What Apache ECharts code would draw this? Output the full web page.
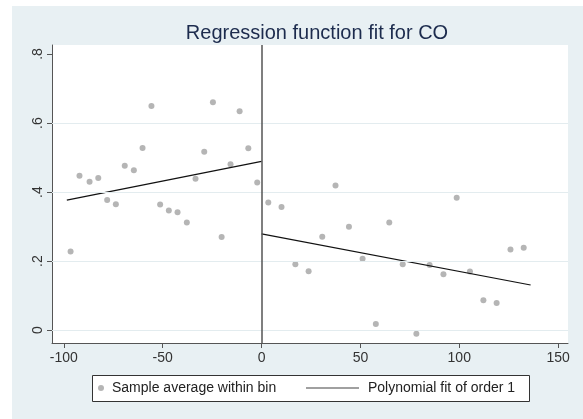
<!DOCTYPE html>
<html>
<head>
<meta charset="utf-8">
<script src="https://cdn.jsdelivr.net/npm/echarts@6/dist/echarts.min.js"></script>
<style>
html,body{margin:0;padding:0;background:#fff;}
#wrap{position:relative;width:583px;height:419px;background:#fff;overflow:hidden;}
#bg{position:absolute;left:12px;top:6px;width:571px;height:413px;background:#e8f0f3;}
#chart{position:absolute;left:0;top:0;width:583px;height:419px;}
</style>
</head>
<body>
<div id="wrap"><div id="bg"></div><div id="chart"></div></div>
<script>
// Binned sample averages, left of cutoff
const leftX = [-96.6,-92.1,-87.0,-82.6,-78.1,-73.7,-69.2,-64.6,-60.2,-55.7,-51.3,-46.9,-42.5,-37.8,-33.4,-29.0,-24.6,-20.2,-15.7,-11.1,-6.7,-2.2];
const leftY = [0.228,0.447,0.430,0.441,0.377,0.365,0.476,0.463,0.528,0.649,0.364,0.347,0.342,0.312,0.439,0.517,0.660,0.270,0.481,0.634,0.527,0.428];
// Binned sample averages, right of cutoff
const rightX = [3.4,10.1,17.1,23.8,30.7,37.4,44.2,51.1,57.8,64.6,71.4,78.3,85.0,92.0,98.7,105.4,112.2,118.9,125.9,132.6];
const rightY = [0.370,0.357,0.191,0.171,0.271,0.419,0.300,0.207,0.018,0.312,0.191,-0.010,0.189,0.162,0.384,0.170,0.087,0.079,0.234,0.239];
// Linear fits
const fitLeftX = [-98.5, 0];
const fitLeftY = [0.377, 0.489];
const fitRightX = [0, 136.1];
const fitRightY = [0.279, 0.131];
// Ticks
const xTicks = [-100,-50,0,50,100,150];
const yTicks = [0,0.2,0.4,0.6,0.8];
const yGrid = [0,0.2,0.4,0.6];
const cutoff = 0;

const zip = (xs, ys) => xs.map((x,i)=>[x, ys[i]]);
const scatterData = zip(leftX,leftY).concat(zip(rightX,rightY));
const FONT = 'Liberation Sans, Arial, sans-serif';

const chart = echarts.init(document.getElementById('chart'), null, {renderer:'canvas'});
chart.setOption({
  animation:false,
  backgroundColor:'transparent',
  title:{
    text:'Regression function fit for CO',
    left:312, top:18, textAlign:'center',
    textStyle:{fontFamily:FONT,fontSize:20,fontWeight:'normal',color:'#1c2b4d',lineHeight:20}
  },
  grid:{left:52,right:15,top:45,bottom:76,show:true,backgroundColor:'#fff',borderWidth:0,containLabel:false},
  xAxis:{
    type:'value', min:-106, max:155,
    axisLine:{show:true,onZero:false,lineStyle:{color:'#555',width:1}},
    axisTick:{show:true,length:5,customValues:xTicks,lineStyle:{color:'#555'}},
    axisLabel:{customValues:xTicks,fontFamily:FONT,fontSize:14,color:'#333',margin:8},
    splitLine:{show:false}
  },
  yAxis:{
    type:'value', min:-0.037, max:0.826,
    axisLine:{show:true,onZero:false,lineStyle:{color:'#555',width:1}},
    axisTick:{show:true,length:5,customValues:yTicks,lineStyle:{color:'#555'}},
    axisLabel:{customValues:yTicks,rotate:90,fontFamily:FONT,fontSize:14,color:'#333',margin:7,
      formatter:v=> v===0 ? '0' : String(Math.round(v*10)/10).replace(/^0\./,'.')},
    splitLine:{show:false}
  },
  legend:[
    {left:98, top:381, padding:0, itemWidth:6, itemHeight:6, icon:'circle',
     data:['Sample average within bin'],
     textStyle:{fontFamily:FONT,fontSize:14,color:'#222',padding:[0,0,0,3],lineHeight:14}},
    {left:306, top:381, padding:0, itemWidth:53, itemHeight:1.3, icon:'rect',
     data:['Polynomial fit of order 1'],
     itemStyle:{color:'#808080',borderWidth:0},
     textStyle:{fontFamily:FONT,fontSize:14,color:'#222',padding:[0,0,0,4],lineHeight:14}}
  ],
  graphic:[
    {type:'rect', z:-1, silent:true, shape:{x:92.5,y:375.5,width:437,height:26},
     style:{fill:'#fff',stroke:'#333',lineWidth:1}}
  ],
  series:[
    {
      name:'Sample average within bin', type:'scatter', symbol:'circle', symbolSize:6,
      itemStyle:{color:'#a3a3a3'}, data:scatterData, z:3,
      markLine:{
        silent:true, symbol:'none', label:{show:false}, animation:false,
        data: yGrid.map(v=>({yAxis:v, lineStyle:{color:'#e3ecef',width:1,type:'solid'}}))
          .concat([{xAxis:cutoff, lineStyle:{color:'#555',width:1.5,type:'solid'}}])
      }
    },
    {name:'Polynomial fit of order 1', type:'line', symbol:'none', data:zip(fitLeftX,fitLeftY),
     lineStyle:{color:'#111',width:1.2}, itemStyle:{color:'#111'}, z:4},
    {name:'Polynomial fit of order 1', type:'line', symbol:'none', data:zip(fitRightX,fitRightY),
     lineStyle:{color:'#111',width:1.2}, itemStyle:{color:'#111'}, z:4}
  ]
});
</script>
</body>
</html>
